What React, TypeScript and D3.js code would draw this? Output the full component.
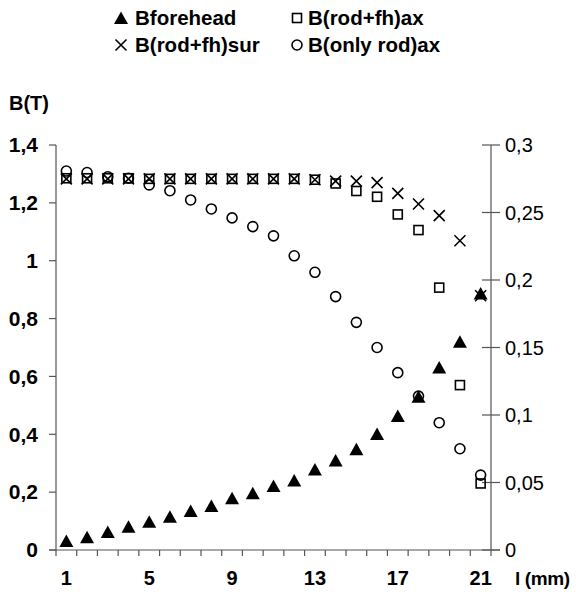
import React from "react";
import * as d3 from "d3";

const categories = d3.range(1, 22);
const xTickLabels = ["1", "5", "9", "13", "17", "21"];
const leftTicks = [0, 0.2, 0.4, 0.6, 0.8, 1, 1.2, 1.4];
const rightTicks = [0, 0.05, 0.1, 0.15, 0.2, 0.25, 0.3];

const bForehead = [0.031, 0.044, 0.062, 0.08, 0.098, 0.115, 0.135, 0.152, 0.179, 0.196, 0.221, 0.24, 0.278, 0.309, 0.348, 0.401, 0.463, 0.53, 0.631, 0.72, 0.887];
const bRodFhAx = [1.285, 1.285, 1.285, 1.285, 1.283, 1.283, 1.283, 1.283, 1.283, 1.283, 1.283, 1.283, 1.28, 1.267, 1.241, 1.221, 1.16, 1.106, 0.907, 0.57, 0.23];
const bRodFhSur = [1.283, 1.283, 1.283, 1.283, 1.283, 1.283, 1.283, 1.283, 1.283, 1.283, 1.283, 1.283, 1.28, 1.275, 1.275, 1.27, 1.233, 1.196, 1.156, 1.069, 0.879];
const bOnlyRodAx = [1.31, 1.305, 1.29, 1.285, 1.262, 1.242, 1.21, 1.179, 1.148, 1.118, 1.086, 1.017, 0.96, 0.876, 0.787, 0.7, 0.613, 0.532, 0.44, 0.35, 0.259];

const W = 576;
const H = 592;
const L = 56;
const R = 491;
const T = 145;
const B = 550;
const FONT = "'Liberation Sans', Arial, sans-serif";

const fmt = (v: number) => String(+v.toFixed(2)).replace(".", ",");

function Triangle({ x, y }: { x: number; y: number }) {
  return <path d={`M${x},${y - 6.5}L${x + 7},${y + 6}L${x - 7},${y + 6}Z`} fill="#000" />;
}
function Square({ x, y }: { x: number; y: number }) {
  return <rect x={x - 4.5} y={y - 4.5} width={9} height={9} fill="none" stroke="#000" strokeWidth={1.6} />;
}
function Cross({ x, y }: { x: number; y: number }) {
  return <path d={`M${x - 5.5},${y - 5.5}L${x + 5.5},${y + 5.5}M${x + 5.5},${y - 5.5}L${x - 5.5},${y + 5.5}`} stroke="#000" strokeWidth={1.6} fill="none" />;
}
function Circle({ x, y }: { x: number; y: number }) {
  return <circle cx={x} cy={y} r={5} fill="none" stroke="#000" strokeWidth={1.6} />;
}

export default function App() {
  const x = d3.scaleBand<number>().domain(categories).range([L, R]).padding(0);
  const y = d3.scaleLinear().domain([0, 1.4]).range([B, T]);
  const y2 = d3.scaleLinear().domain([0, 0.3]).range([B, T]);
  const cx = (c: number) => (x(c) as number) + x.bandwidth() / 2;
  const boundaries = d3.range(0, categories.length + 1).map((i) => L + i * x.bandwidth());

  return (
    <svg width={W} height={H} style={{ position: "absolute", left: 0, top: 0, background: "#fff" }} fontFamily={FONT}>
      {/* legend */}
      <g fontSize={20.5} fontWeight="bold">
        <Triangle x={121} y={18} />
        <text x={135} y={25}>Bforehead</text>
        <Square x={297} y={18} />
        <text x={308} y={25}>B(rod+fh)ax</text>
        <Cross x={121} y={45} />
        <text x={135} y={52}>B(rod+fh)sur</text>
        <Circle x={297} y={45} />
        <text x={308} y={52}>B(only rod)ax</text>
      </g>
      <text x={9} y={110} fontSize={20} fontWeight="bold">B(T)</text>

      {/* left axis */}
      <line x1={L} x2={L} y1={T} y2={B} stroke="#555" strokeWidth={1.2} />
      {leftTicks.map((t) => (
        <g key={t}>
          <line x1={L - 7} x2={L} y1={y(t)} y2={y(t)} stroke="#555" strokeWidth={1.2} />
          <text x={38} y={y(t)} dy="0.35em" textAnchor="end" fontSize={21} fontWeight="bold">{fmt(t)}</text>
        </g>
      ))}

      {/* right axis */}
      <line x1={R} x2={R} y1={T} y2={B} stroke="#555" strokeWidth={1.2} />
      {rightTicks.map((t) => (
        <g key={t}>
          <line x1={R - 9} x2={R + 9} y1={y2(t)} y2={y2(t)} stroke="#555" strokeWidth={1.2} />
          <text x={505} y={y2(t)} dy="0.35em" fontSize={20}>{fmt(t)}</text>
        </g>
      ))}

      {/* x axis */}
      <line x1={L - 7} x2={R + 9} y1={B} y2={B} stroke="#555" strokeWidth={1.2} />
      {boundaries.map((b, i) => (
        <line key={i} x1={b} x2={b} y1={B} y2={B + 6} stroke="#555" strokeWidth={1.2} />
      ))}
      {xTickLabels.map((l) => (
        <text key={l} x={cx(+l)} y={585} textAnchor="middle" fontSize={20} fontWeight="bold">{l}</text>
      ))}
      <text x={515} y={585} fontSize={19} fontWeight="bold" textLength={55} lengthAdjust="spacing">l (mm)</text>

      {/* series */}
      {categories.map((c, i) => <Triangle key={"t" + c} x={cx(c)} y={y(bForehead[i])} />)}
      {categories.map((c, i) => <Square key={"s" + c} x={cx(c)} y={y(bRodFhAx[i])} />)}
      {categories.map((c, i) => <Cross key={"x" + c} x={cx(c)} y={y(bRodFhSur[i])} />)}
      {categories.map((c, i) => <Circle key={"c" + c} x={cx(c)} y={y(bOnlyRodAx[i])} />)}
    </svg>
  );
}
